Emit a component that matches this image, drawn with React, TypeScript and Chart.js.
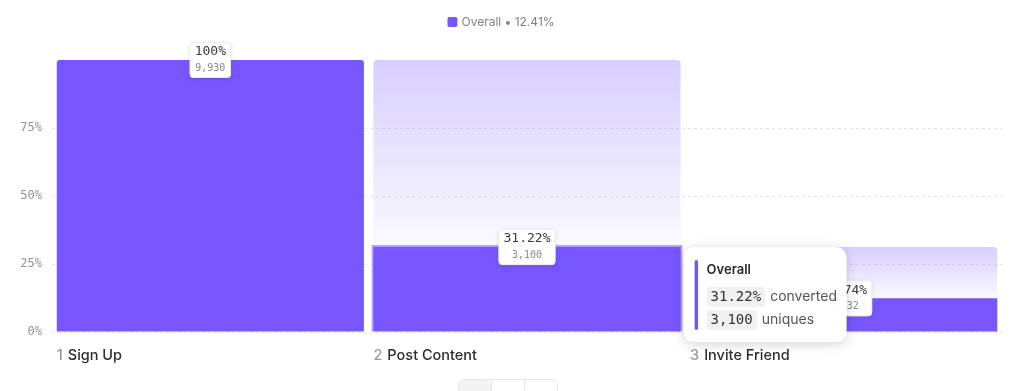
import React, { useEffect, useRef } from "react";
import { Chart, registerables } from "chart.js";
Chart.register(...registerables);

const stepNames = ["Sign Up", "Post Content", "Invite Friend"];
const overallPct = [100, 31.22, 12.41];
const previousPct = [100, 100, 31.22];
const stepPctLabels = ["100%", "31.22%", "39.74%"];
const uniques = ["9,930", "3,100", "1,232"];
const legendText = "Overall • 12.41%";
const tooltipStep = 1;
const tooltipTitle = "Overall";
const tooltipValues = ["31.22%", "3,100"];
const tooltipWords = ["converted", "uniques"];

const PURPLE = "#7856ff";
const SANS = "Inter, 'Noto Sans', sans-serif";
const MONO = "'DejaVu Sans Mono', 'Liberation Mono', monospace";

function rr(ctx: CanvasRenderingContext2D, x: number, y: number, w: number, h: number, r: number) {
  ctx.beginPath();
  (ctx as any).roundRect(x, y, w, h, r);
}

const overlay = {
  id: "overlay",
  afterDraw(chart: any) {
    const ctx: CanvasRenderingContext2D = chart.ctx;
    const ys = chart.scales.y;
    const meta = chart.getDatasetMeta(0);
    ctx.save();

    // data labels
    for (let i = 0; i < stepNames.length; i++) {
      const el = meta.data[i];
      const cx = el.x;
      const cy = ys.getPixelForValue(overallPct[i]);
      ctx.font = `500 13px ${MONO}`;
      const w1 = ctx.measureText(stepPctLabels[i]).width;
      ctx.font = `10px ${MONO}`;
      const w2 = ctx.measureText(uniques[i]).width;
      const bw = Math.max(w1, w2) + 10;
      const bh = 36;
      ctx.save();
      ctx.shadowColor = "rgba(0,0,0,0.12)";
      ctx.shadowBlur = 4;
      ctx.shadowOffsetY = 1;
      rr(ctx, cx - bw / 2, cy - bh / 2, bw, bh, 4);
      ctx.fillStyle = "#ffffff";
      ctx.fill();
      ctx.restore();
      rr(ctx, cx - bw / 2 + 0.5, cy - bh / 2 + 0.5, bw - 1, bh - 1, 4);
      ctx.strokeStyle = "#ececec";
      ctx.lineWidth = 1;
      ctx.stroke();
      ctx.textAlign = "center";
      ctx.textBaseline = "middle";
      ctx.font = `500 13px ${MONO}`;
      ctx.fillStyle = "#3a3a3a";
      ctx.fillText(stepPctLabels[i], cx, cy - 8);
      ctx.font = `10px ${MONO}`;
      ctx.fillStyle = "#8a8a8a";
      ctx.fillText(uniques[i], cx, cy + 8);
    }

    // x labels
    const bgMeta = chart.getDatasetMeta(1);
    for (let i = 0; i < stepNames.length; i++) {
      const el = bgMeta.data[i];
      const left = el.x - el.width / 2;
      ctx.textAlign = "left";
      ctx.textBaseline = "middle";
      ctx.font = `500 14.5px ${SANS}`;
      ctx.fillStyle = "#9a9a9a";
      const num = String(i + 1);
      ctx.fillText(num, left, 356);
      const nw = ctx.measureText(num).width;
      ctx.fillStyle = "#2e2e2e";
      ctx.fillText(stepNames[i], left + nw + 5, 356);
    }

    // legend
    ctx.font = `12px ${SANS}`;
    const tw = ctx.measureText(legendText).width;
    const lx = 501 - (tw + 14) / 2;
    rr(ctx, lx, 17, 10, 10, 2);
    ctx.fillStyle = PURPLE;
    ctx.fill();
    ctx.fillStyle = "#808080";
    ctx.textAlign = "left";
    ctx.textBaseline = "middle";
    ctx.fillText(legendText, lx + 14, 22);

    // tooltip
    const tEl = meta.data[tooltipStep];
    const tx = tEl.x + tEl.width / 2 + 3;
    const ty = ys.getPixelForValue(overallPct[tooltipStep]);
    const tW = 163, tH = 95;
    ctx.save();
    ctx.shadowColor = "rgba(0,0,0,0.18)";
    ctx.shadowBlur = 12;
    ctx.shadowOffsetY = 2;
    rr(ctx, tx, ty, tW, tH, 10);
    ctx.fillStyle = "#ffffff";
    ctx.fill();
    ctx.restore();
    rr(ctx, tx + 11, ty + 13, 3.5, 70, 2);
    ctx.fillStyle = PURPLE;
    ctx.fill();
    ctx.font = `600 13px ${SANS}`;
    ctx.fillStyle = "#2b2b2b";
    ctx.textAlign = "left";
    ctx.textBaseline = "middle";
    ctx.fillText(tooltipTitle, tx + 23, ty + 23);
    for (let r = 0; r < tooltipValues.length; r++) {
      const rowY = ty + 50 + r * 23;
      ctx.font = `14px ${MONO}`;
      const vw = ctx.measureText(tooltipValues[r]).width;
      rr(ctx, tx + 23, rowY - 10, vw + 8, 20, 3);
      ctx.fillStyle = "#f1f1f1";
      ctx.fill();
      ctx.fillStyle = "#333333";
      ctx.fillText(tooltipValues[r], tx + 27, rowY);
      ctx.font = `14px ${SANS}`;
      ctx.fillStyle = "#555555";
      ctx.fillText(tooltipWords[r], tx + 23 + vw + 13, rowY);
    }

    // bottom segmented control (partly cut off)
    rr(ctx, 458.5, 379.5, 99, 24, 6);
    ctx.fillStyle = "#ffffff";
    ctx.fill();
    ctx.strokeStyle = "#e6e6e6";
    ctx.stroke();
    rr(ctx, 459, 380, 32, 23, 5);
    ctx.fillStyle = "#f3f3f3";
    ctx.fill();
    ctx.beginPath();
    ctx.moveTo(491.5, 380);
    ctx.lineTo(491.5, 391);
    ctx.moveTo(524.5, 380);
    ctx.lineTo(524.5, 391);
    ctx.strokeStyle = "#e6e6e6";
    ctx.stroke();

    ctx.restore();
  },
};

export default function App() {
  const ref = useRef<HTMLCanvasElement | null>(null);
  useEffect(() => {
    if (!ref.current) return;
    const chart = new Chart(ref.current, {
      type: "bar",
      data: {
        labels: stepNames,
        datasets: [
          {
            label: "Overall",
            data: overallPct,
            grouped: false,
            barPercentage: 0.97,
            categoryPercentage: 1,
            backgroundColor: PURPLE,
            borderColor: (c: any) => (c.dataIndex === tooltipStep ? "#b0a0ff" : PURPLE),
            borderWidth: (c: any) => (c.dataIndex === tooltipStep ? 2 : 0),
            inflateAmount: (c: any) => (c.dataIndex === tooltipStep ? 2 : "auto"),
            borderRadius: (c: any) =>
              c.dataIndex === 0
                ? { topLeft: 3, topRight: 3, bottomLeft: 0, bottomRight: 0 }
                : 0,
          } as any,
          {
            label: "Drop-off",
            data: stepNames.map((_, i) => [overallPct[i], previousPct[i]]),
            grouped: false,
            barPercentage: 0.97,
            categoryPercentage: 1,
            borderWidth: 0,
            borderRadius: { topLeft: 4, topRight: 4, bottomLeft: 0, bottomRight: 0 },
            backgroundColor: (c: any) => {
              const chart = c.chart;
              if (!chart.chartArea || c.dataIndex === undefined) return "rgba(120,86,255,0.2)";
              const ys = chart.scales.y;
              const top = ys.getPixelForValue(previousPct[c.dataIndex]);
              const bottom = ys.getPixelForValue(overallPct[c.dataIndex]);
              if (!(bottom > top)) return "rgba(120,86,255,0.2)";
              const g = chart.ctx.createLinearGradient(0, top, 0, bottom);
              g.addColorStop(0, "rgba(120,86,255,0.29)");
              g.addColorStop(1, "rgba(120,86,255,0.03)");
              return g;
            },
          } as any,
        ],
      },
      options: {
        responsive: false,
        animation: false,
        events: [],
        layout: { padding: { top: 60, bottom: 59, left: 0, right: 22 } },
        plugins: { legend: { display: false }, tooltip: { enabled: false } },
        scales: {
          x: { display: false },
          y: {
            min: 0,
            max: 100,
            afterFit: (s: any) => {
              s.width = 52;
            },
            ticks: {
              stepSize: 25,
              padding: 10,
              color: "#939393",
              font: { family: MONO, size: 12 },
              callback: (v: any) => (v === 100 ? "" : v + "%"),
            },
            grid: {
              drawTicks: false,
              color: (c: any) => (c.tick && c.tick.value === 100 ? "rgba(0,0,0,0)" : "#e2e2e2"),
            },
            border: { display: false, dash: [3, 3] },
          },
        },
      },
      plugins: [overlay],
    } as any);
    return () => chart.destroy();
  }, []);
  return (
    <div style={{ position: "absolute", left: 0, top: 0, width: 1024, height: 391, background: "#fff" }}>
      <canvas ref={ref} width={1024} height={391} style={{ display: "block" }} />
    </div>
  );
}
